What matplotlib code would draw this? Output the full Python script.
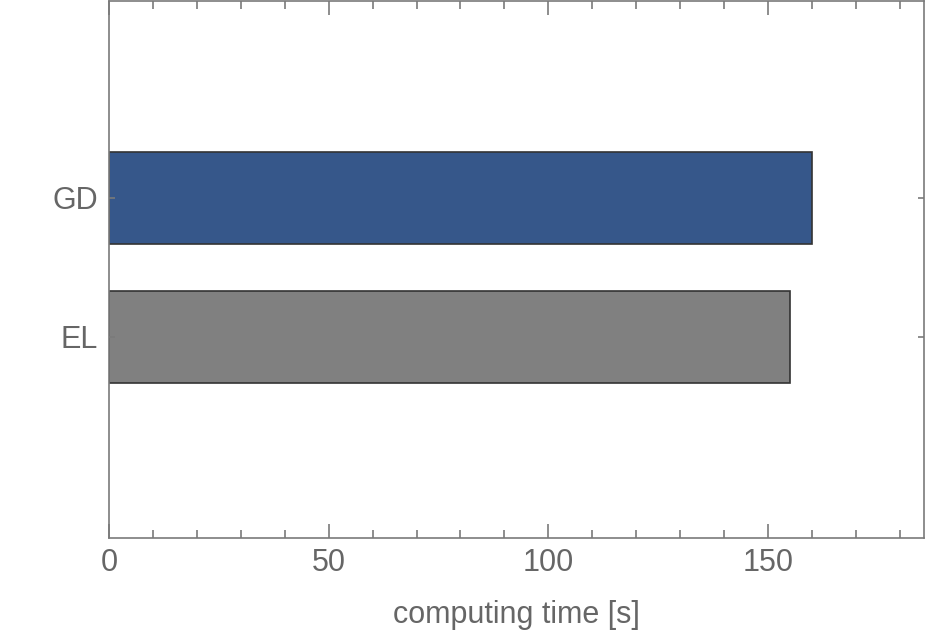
import numpy as np
import matplotlib.pyplot as plt
from matplotlib.ticker import MultipleLocator

# data
labels = ['EL', 'GD']
times = [155, 160]
colors = ['#808080', '#36578a']

plt.rcParams['font.family'] = ['Liberation Sans', 'DejaVu Sans']
axcol = '#7a7a7a'
txtcol = '#666666'

fig = plt.figure(figsize=(9.4, 6.39), dpi=100)
ax = fig.add_axes([109/940, 1 - 538/639, (924 - 109)/940, (538 - 1)/639])

pos = np.arange(len(labels)) + 1
ax.barh(pos, times, height=0.662, color=colors, edgecolor='#333333', linewidth=1.2)

ax.set_xlim(0, 185.5)
ax.set_ylim(-0.446, 3.417)
ax.set_yticks(pos)
ax.set_yticklabels(labels)
ax.xaxis.set_major_locator(MultipleLocator(50))
ax.xaxis.set_minor_locator(MultipleLocator(10))

for s in ax.spines.values():
    s.set_color(axcol)
    s.set_linewidth(1.2)

ax.tick_params(axis='x', which='major', direction='in', length=10, width=1.2,
               color=axcol, top=True, labelsize=22, labelcolor=txtcol, pad=7)
ax.tick_params(axis='x', which='minor', direction='in', length=6, width=1.2,
               color=axcol, top=True)
ax.tick_params(axis='y', which='major', direction='in', length=4, width=1.2,
               color=axcol, right=True, labelsize=22, labelcolor=txtcol, pad=8)

ax.set_xlabel('computing time [s]', fontsize=22, color=txtcol, labelpad=16)

plt.savefig('out.png', dpi=100)
plt.close()
